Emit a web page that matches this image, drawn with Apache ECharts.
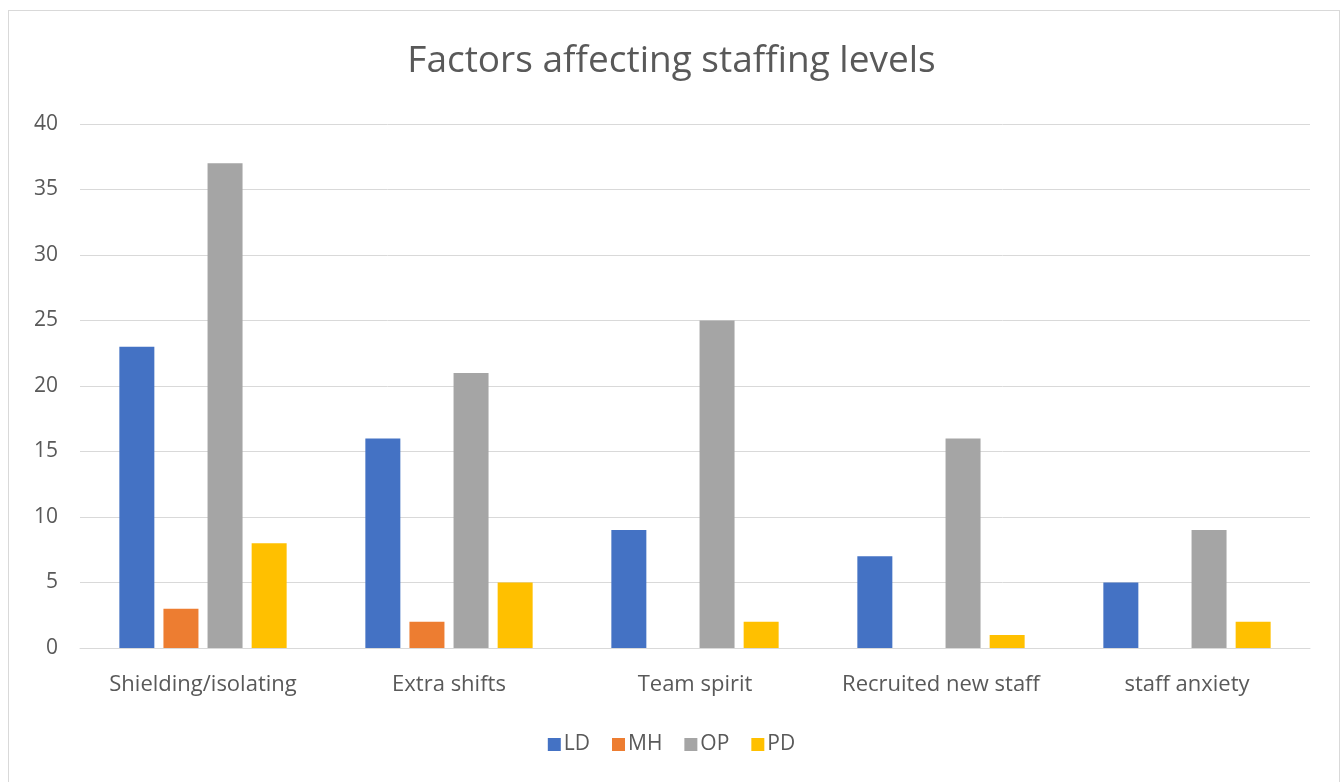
<!DOCTYPE html>
<html>
<head>
<meta charset="utf-8">
<script src="https://cdn.jsdelivr.net/npm/echarts@6/dist/echarts.min.js"></script>
<style>
  html, body { margin: 0; padding: 0; background: #fff; }
  #frame { position: absolute; left: 8px; top: 10px; width: 1332px; height: 780px; border: 1px solid #d9d9d9; box-sizing: border-box; }
  #main { position: absolute; left: 0; top: 0; width: 1343px; height: 782px; }
</style>
</head>
<body>
<div id="frame"></div>
<div id="main"></div>
<script>
// categories and values
const categories = ['Shielding/isolating', 'Extra shifts', 'Team spirit', 'Recruited new staff', 'staff anxiety']
const ldValues = [23, 16, 9, 7, 5]
const mhValues = [3, 2, 0, 0, 0]
const opValues = [37, 21, 25, 16, 9]
const pdValues = [8, 5, 2, 1, 2]
const seriesNames = ['LD', 'MH', 'OP', 'PD']

const font = '"Open Sans", "Noto Sans", sans-serif'

const bar = (name, data) => ({
  name: name,
  type: 'bar',
  data: data,
  barWidth: 35,
  barGap: '26%',
  emphasis: { disabled: true },
})

const option = {
  animation: false,
  color: ['#4472C4', '#ED7D31', '#A5A5A5', '#FFC000'],
  textStyle: { fontFamily: font },
  title: {
    text: 'Factors affecting staffing levels',
    left: 'center',
    top: 38,
    textStyle: { fontFamily: font, fontSize: 37, fontWeight: 'normal', color: '#595959' },
  },
  legend: {
    data: seriesNames,
    bottom: 22,
    left: 'center',
    itemWidth: 13,
    itemHeight: 13,
    itemGap: 22,
    icon: 'rect',
    textStyle: { fontFamily: font, fontSize: 21, color: '#595959', padding: [0, 0, 0, -2] },
  },
  grid: { left: 80, right: 33, top: 124, bottom: 134, containLabel: false },
  xAxis: {
    type: 'category',
    data: categories,
    axisLine: { show: true, lineStyle: { color: '#d9d9d9', width: 1 } },
    axisTick: { show: false },
    axisLabel: { fontFamily: font, fontSize: 22, color: '#595959', margin: 26, interval: 0, hideOverlap: false },
  },
  yAxis: {
    type: 'value',
    min: 0,
    max: 40,
    interval: 5,
    axisLine: { show: false },
    axisTick: { show: false },
    splitLine: { lineStyle: { color: '#d9d9d9', width: 1 } },
    axisLabel: { fontFamily: font, fontSize: 21, color: '#595959', margin: 22 },
  },
  series: [
    bar('LD', ldValues),
    bar('MH', mhValues),
    bar('OP', opValues),
    bar('PD', pdValues),
  ],
}

const myChart = echarts.init(document.getElementById('main'), null, { renderer: 'canvas' })
myChart.setOption(option, true)
</script>
</body>
</html>
